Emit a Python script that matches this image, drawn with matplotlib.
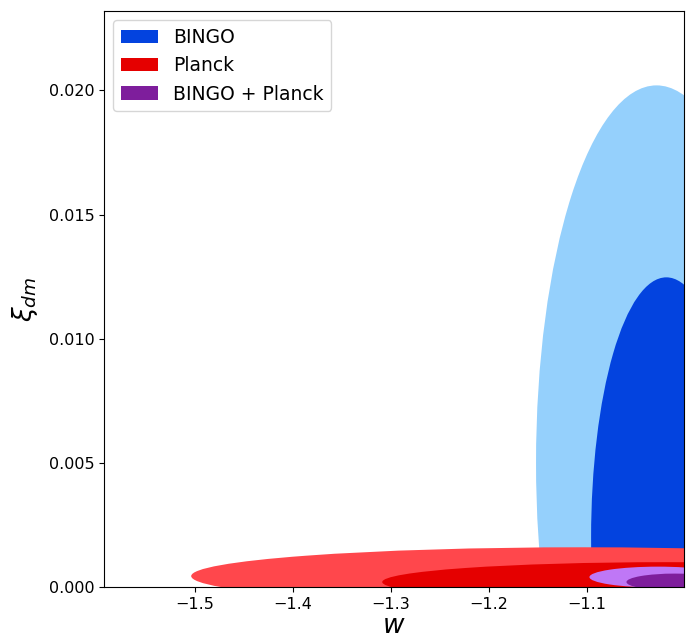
import matplotlib
matplotlib.use("Agg")
import matplotlib.pyplot as plt
from matplotlib.patches import Ellipse, Patch

# contour ellipses: (centre w, centre xi, semi-axis w, semi-axis xi), outer (2 sigma) then inner (1 sigma)
bingo_2s = (-1.029, 0.0050, 0.123, 0.0152)
bingo_1s = (-1.019, 0.0020, 0.0768, 0.01047)
planck_2s = (-1.104, 0.00044, 0.400, 0.00116)
planck_1s = (-1.019, 0.0002, 0.290, 0.0008)
joint_2s = (-1.0275, 0.0004, 0.070, 0.00042)
joint_1s = (-1.0103, 0.0002, 0.0494, 0.00034)

labels = ["BINGO", "Planck", "BINGO + Planck"]
light_colors = ["#95d0fc", "#ff474c", "#bf77f6"]
dark_colors = ["#0343df", "#e50000", "#7e1e9c"]

xticks = [-1.5, -1.4, -1.3, -1.2, -1.1]
yticks = [0.0, 0.005, 0.010, 0.015, 0.020]


def add_contour(ax, params, color):
    xc, yc, a, b = params
    ax.add_patch(Ellipse((xc, yc), 2 * a, 2 * b, facecolor=color,
                         edgecolor="none", lw=0))


def main():
    fig = plt.figure(figsize=(6.97, 6.4), dpi=100)
    ax = fig.add_axes([0.1492, 0.0828, 0.8321, 0.9002])

    pairs = [(bingo_2s, bingo_1s), (planck_2s, planck_1s), (joint_2s, joint_1s)]
    for (outer, inner), lc, dc in zip(pairs, light_colors, dark_colors):
        add_contour(ax, outer, lc)
        add_contour(ax, inner, dc)

    ax.set_xlim(-1.593, -1.001)
    ax.set_ylim(0.0, 0.0232)
    ax.set_xticks(xticks)
    ax.set_yticks(yticks)
    ax.tick_params(labelsize=11.5)

    ax.set_xlabel("$w$", fontsize=19, labelpad=1)
    ax.set_ylabel(r"$\xi_{dm}$", fontsize=19, labelpad=6)

    handles = [Patch(facecolor=c, label=l) for c, l in zip(dark_colors, labels)]
    ax.legend(handles=handles, loc="upper left", fontsize=13.5,
              handlelength=2.0, borderaxespad=0.5)

    fig.savefig("out.png", dpi=100)


if __name__ == "__main__":
    main()
